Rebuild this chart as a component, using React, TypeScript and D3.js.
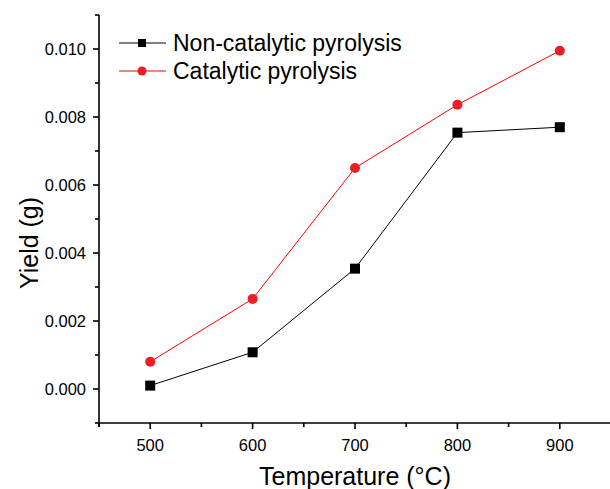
import { useEffect, useRef } from 'react';
import * as d3 from 'd3';

const temps = [500, 600, 700, 800, 900];
const nonCatalytic = [0.0001, 0.00108, 0.00354, 0.00754, 0.0077];
const catalytic = [0.0008, 0.00265, 0.0065, 0.00836, 0.00995];
const yTicks = [0, 0.002, 0.004, 0.006, 0.008, 0.01];
const seriesNames = ['Non-catalytic pyrolysis', 'Catalytic pyrolysis'];

const W = 610;
const H = 489;

const App = () => {
  const ref = useRef<SVGSVGElement>(null);

  useEffect(() => {
    if (!ref.current) return;
    const svg = d3.select(ref.current);
    svg.selectAll('*').remove();
    const font = 'Arial, "Liberation Sans", sans-serif';
    const margin = { left: 99, top: 15, bottom: 423 };

    const x = d3.scaleLinear().domain([450, 950]).range([margin.left, 611]);
    const y = d3.scaleLinear().domain([-0.001, 0.011]).range([margin.bottom, margin.top]);

    // x axis
    const gx = svg.append('g').attr('transform', `translate(0, ${margin.bottom})`);
    gx.append('line')
      .attr('x1', margin.left).attr('x2', W)
      .attr('stroke', '#000').attr('stroke-width', 1.6);
    gx.selectAll('.xmaj').data(temps).enter().append('line')
      .attr('x1', (d) => x(d)).attr('x2', (d) => x(d))
      .attr('y1', 0).attr('y2', 6)
      .attr('stroke', '#000').attr('stroke-width', 1.6);
    gx.selectAll('.xmin').data([450, 550, 650, 750, 850]).enter().append('line')
      .attr('x1', (d) => x(d)).attr('x2', (d) => x(d))
      .attr('y1', 0).attr('y2', 4)
      .attr('stroke', '#000').attr('stroke-width', 1.6);
    gx.selectAll('text').data(temps).enter().append('text')
      .attr('x', (d) => x(d)).attr('y', 28)
      .attr('text-anchor', 'middle')
      .style('font-family', font).style('font-size', '16.5px')
      .text((d) => d);

    // y axis
    const gy = svg.append('g').attr('transform', `translate(${margin.left}, 0)`);
    gy.append('line')
      .attr('y1', margin.top).attr('y2', margin.bottom + 4)
      .attr('stroke', '#000').attr('stroke-width', 1.6);
    gy.selectAll('.ymaj').data(yTicks).enter().append('line')
      .attr('y1', (d) => y(d)).attr('y2', (d) => y(d))
      .attr('x1', 0).attr('x2', -6)
      .attr('stroke', '#000').attr('stroke-width', 1.6);
    gy.selectAll('.ymin').data([-0.001, 0.001, 0.003, 0.005, 0.007, 0.009, 0.011]).enter().append('line')
      .attr('y1', (d) => y(d)).attr('y2', (d) => y(d))
      .attr('x1', 0).attr('x2', -4)
      .attr('stroke', '#000').attr('stroke-width', 1.6);
    gy.selectAll('text').data(yTicks).enter().append('text')
      .attr('x', -13).attr('y', (d) => y(d))
      .attr('dy', '0.35em')
      .attr('text-anchor', 'end')
      .style('font-family', font).style('font-size', '16.5px')
      .text((d) => d3.format('.3f')(d));

    // titles
    svg.append('text')
      .attr('x', 355).attr('y', 485)
      .attr('text-anchor', 'middle')
      .style('font-family', font).style('font-size', '25px')
      .text('Temperature (°C)');
    svg.append('text')
      .attr('transform', `translate(38, 243) rotate(-90)`)
      .attr('text-anchor', 'middle')
      .style('font-family', font).style('font-size', '25px')
      .text('Yield (g)');

    const line = d3.line<number>().x((_, i) => x(temps[i])).y((d) => y(d));

    // non-catalytic
    svg.append('path').datum(nonCatalytic)
      .attr('d', line).attr('fill', 'none')
      .attr('stroke', '#000').attr('stroke-width', 1);
    svg.selectAll('.sq').data(nonCatalytic).enter().append('rect')
      .attr('x', (_, i) => x(temps[i]) - 5).attr('y', (d) => y(d) - 5)
      .attr('width', 10).attr('height', 10).attr('fill', '#000');

    // catalytic
    svg.append('path').datum(catalytic)
      .attr('d', line).attr('fill', 'none')
      .attr('stroke', '#ff0000').attr('stroke-width', 1);
    svg.selectAll('.dot').data(catalytic).enter().append('circle')
      .attr('cx', (_, i) => x(temps[i])).attr('cy', (d) => y(d))
      .attr('r', 5).attr('fill', '#ee1c25');

    // legend
    const lg = svg.append('g');
    seriesNames.forEach((name, i) => {
      const ly = 43 + i * 28;
      const color = i === 0 ? '#000' : '#ff0000';
      lg.append('line')
        .attr('x1', 119).attr('x2', 166).attr('y1', ly).attr('y2', ly)
        .attr('stroke', color).attr('stroke-width', 1);
      if (i === 0) {
        lg.append('rect').attr('x', 138).attr('y', ly - 4).attr('width', 8).attr('height', 8).attr('fill', '#000');
      } else {
        lg.append('circle').attr('cx', 142).attr('cy', ly).attr('r', 4.5).attr('fill', '#ee1c25');
      }
      lg.append('text')
        .attr('x', 173).attr('y', ly).attr('dy', '0.35em')
        .style('font-family', font).style('font-size', '23px')
        .text(name);
    });
  }, []);

  return (
    <div style={{ position: 'fixed', left: 0, top: 0 }}>
      <svg ref={ref} width={W} height={H} style={{ display: 'block', background: '#fff' }} />
    </div>
  );
};

export default App;
